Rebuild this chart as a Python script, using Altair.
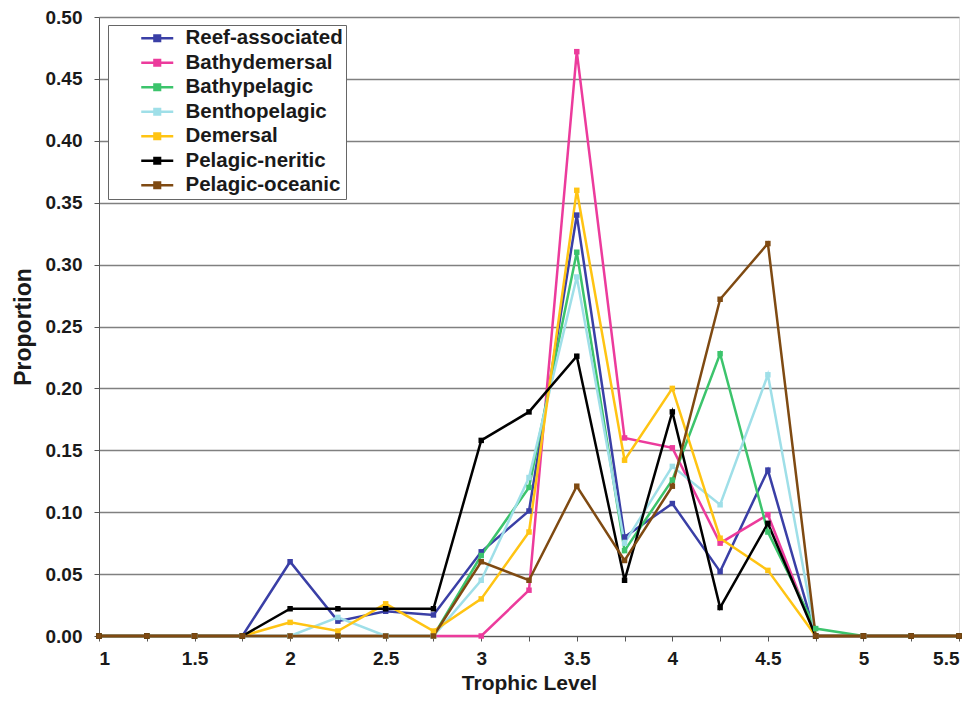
import altair as alt
import pandas as pd

trophic = [1, 1.25, 1.5, 1.75, 2, 2.25, 2.5, 2.75, 3, 3.25, 3.5, 3.75, 4, 4.25, 4.5, 4.75, 5, 5.25, 5.5]

series_names = ["Reef-associated", "Bathydemersal", "Bathypelagic", "Benthopelagic",
                "Demersal", "Pelagic-neritic", "Pelagic-oceanic"]
series_colors = ["#3a3fa6", "#ec3b9c", "#3cc46c", "#9fdfe8", "#ffc413", "#000000", "#7f4a12"]

reef = [0, 0, 0, 0, 0.060, 0.012, 0.020, 0.017, 0.068, 0.101, 0.340, 0.080, 0.107, 0.052, 0.134, 0, 0, 0, 0]
bathydemersal = [0, 0, 0, 0, 0, 0, 0, 0, 0, 0.037, 0.472, 0.160, 0.152, 0.075, 0.098, 0, 0, 0, 0]
bathypelagic = [0, 0, 0, 0, 0, 0, 0, 0, 0.065, 0.120, 0.310, 0.069, 0.126, 0.228, 0.084, 0.006, 0, 0, 0]
benthopelagic = [0, 0, 0, 0, 0, 0.015, 0, 0, 0.045, 0.128, 0.290, 0.075, 0.137, 0.106, 0.211, 0, 0, 0, 0]
demersal = [0, 0, 0, 0, 0.011, 0.004, 0.026, 0.004, 0.030, 0.084, 0.360, 0.142, 0.200, 0.079, 0.053, 0, 0, 0, 0]
neritic = [0, 0, 0, 0, 0.022, 0.022, 0.022, 0.022, 0.158, 0.181, 0.226, 0.045, 0.181, 0.023, 0.091, 0, 0, 0, 0]
oceanic = [0, 0, 0, 0, 0, 0, 0, 0, 0.060, 0.045, 0.121, 0.061, 0.121, 0.272, 0.317, 0, 0, 0, 0]

all_vals = [reef, bathydemersal, bathypelagic, benthopelagic, demersal, neritic, oceanic]

rows = []
for i, (name, vals) in enumerate(zip(series_names, all_vals)):
    for t, v in zip(trophic, vals):
        rows.append({"series": name, "order": i, "trophic": t, "proportion": v})
df = pd.DataFrame(rows)

FONT = "Liberation Sans"
TXT = "#1a1a1a"

color = alt.Color(
    "series:N",
    scale=alt.Scale(domain=series_names, range=series_colors),
    sort=series_names,
    legend=alt.Legend(
        title=None,
        orient="none",
        legendX=9,
        legendY=8,
        labelFont=FONT,
        labelFontSize=20.5,
        labelFontWeight="bold",
        labelColor=TXT,
        labelLimit=400,
        symbolType="M2.5,0H6.5M4.15,-0.35H4.85V0.35H4.15Z",
        symbolSize=256,
        symbolStrokeWidth=2.5,
        labelOffset=54,
        rowPadding=3.5,
        padding=3,
        strokeColor="#666666",
        fillColor="white",
        offset=0,
    ),
)

x = alt.X(
    "trophic:Q",
    title="Trophic Level",
    scale=alt.Scale(domain=[1, 5.5], nice=False, zero=False),
    axis=alt.Axis(
        values=trophic,
        labelExpr="(datum.value * 2) % 1 == 0 ? datum.label : ''",
        format="~g",
        grid=False,
        tickSize=5,
        tickColor="#555555",
        domainColor="#555555",
        labelFont=FONT,
        labelFontSize=19,
        labelFontWeight="bold",
        labelColor=TXT,
        titleFont=FONT,
        titleFontSize=21,
        titleFontWeight="bold",
        titleColor=TXT,
        labelPadding=8,
        titlePadding=4,
    ),
)

y = alt.Y(
    "proportion:Q",
    title="Proportion",
    scale=alt.Scale(domain=[0, 0.5], nice=False),
    axis=alt.Axis(
        values=[0, 0.05, 0.1, 0.15, 0.2, 0.25, 0.3, 0.35, 0.4, 0.45, 0.5],
        format=".2f",
        grid=True,
        gridColor="#808080",
        gridWidth=1.5,
        tickSize=5,
        tickColor="#555555",
        domainColor="#555555",
        labelFont=FONT,
        labelFontSize=19,
        labelFontWeight="bold",
        labelColor=TXT,
        titleFont=FONT,
        titleFontSize=23,
        titleFontWeight="bold",
        titleColor=TXT,
        labelPadding=12,
        titlePadding=10,
    ),
)

base = alt.Chart(df)

lines = base.mark_line(strokeWidth=2.5).encode(
    x=x, y=y, color=color, detail="series:N", order="trophic:Q"
)
points = base.mark_square(size=30, filled=True, opacity=1).encode(
    x=x, y=y, color=color
)

chart = (
    alt.layer(lines, points)
    .properties(
        width=860,
        height=619,
        autosize=alt.AutoSizeParams(type="none"),
        padding={"left": 91, "top": 9, "right": 6, "bottom": 58},
    )
    .configure_view(stroke="#555555", strokeWidth=1.5)
    .configure(background="white")
)

chart.save("out.html", embed_options={"renderer": "svg", "actions": False})
